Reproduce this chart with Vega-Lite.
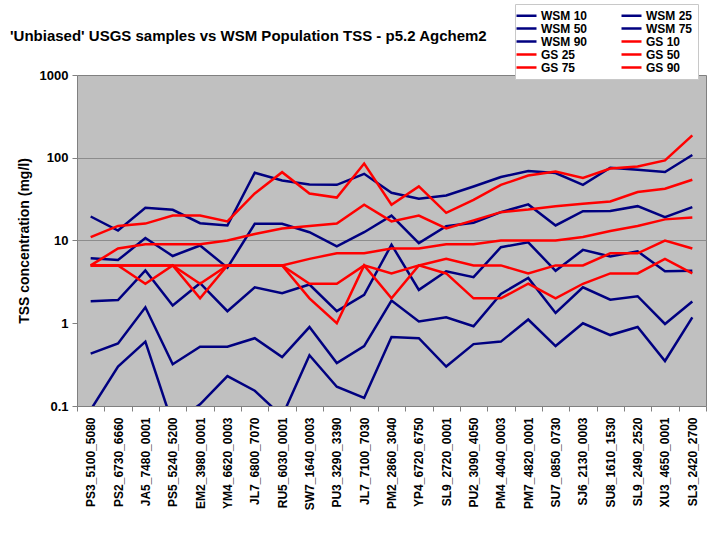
{
  "$schema": "https://vega.github.io/schema/vega-lite/v6.json",
  "width": 629,
  "height": 331,
  "autosize": {"type": "none"},
  "padding": {"left": 77, "top": 75, "right": 14, "bottom": 134},
  "background": "white",
  "config": {
    "font": "Liberation Sans",
    "view": {"fill": "#c0c0c0", "stroke": "#808080", "strokeWidth": 1}
  },
  "title": {
    "text": "'Unbiased' USGS samples vs WSM Population TSS -  p5.2 Agchem2",
    "anchor": "start",
    "frame": "group",
    "dx": -67,
    "dy": 40,
    "offset": 0,
    "font": "Liberation Sans",
    "fontSize": 15,
    "fontWeight": "bold",
    "color": "black"
  },
  "data": {
    "values": [
      {"site": "PS3_5100_5080", "WSM 10": 0.09, "WSM 25": 0.43, "WSM 50": 1.85, "WSM 75": 6.1, "WSM 90": 19.5, "GS 10": 5, "GS 25": 5, "GS 50": 5, "GS 75": 5, "GS 90": 11},
      {"site": "PS2_6730_6660", "WSM 10": 0.3, "WSM 25": 0.57, "WSM 50": 1.91, "WSM 75": 5.8, "WSM 90": 13.2, "GS 10": 5, "GS 25": 5, "GS 50": 5, "GS 75": 8, "GS 90": 15},
      {"site": "JA5_7480_0001", "WSM 10": 0.6, "WSM 25": 1.56, "WSM 50": 4.34, "WSM 75": 10.7, "WSM 90": 24.8, "GS 10": 3, "GS 25": 5, "GS 50": 5, "GS 75": 9, "GS 90": 16},
      {"site": "PS5_5240_5200", "WSM 10": 0.06, "WSM 25": 0.32, "WSM 50": 1.64, "WSM 75": 6.5, "WSM 90": 23.5, "GS 10": 5, "GS 25": 5, "GS 50": 5, "GS 75": 9, "GS 90": 20},
      {"site": "EM2_3980_0001", "WSM 10": 0.105, "WSM 25": 0.52, "WSM 50": 3.05, "WSM 75": 8.7, "WSM 90": 16.2, "GS 10": 2, "GS 25": 3, "GS 50": 5, "GS 75": 9, "GS 90": 20},
      {"site": "YM4_6620_0003", "WSM 10": 0.23, "WSM 25": 0.52, "WSM 50": 1.4, "WSM 75": 4.7, "WSM 90": 15.2, "GS 10": 5, "GS 25": 5, "GS 50": 5, "GS 75": 10, "GS 90": 17},
      {"site": "JL7_6800_7070", "WSM 10": 0.153, "WSM 25": 0.66, "WSM 50": 2.72, "WSM 75": 15.9, "WSM 90": 65.9, "GS 10": 5, "GS 25": 5, "GS 50": 5, "GS 75": 12, "GS 90": 37},
      {"site": "RU5_6030_0001", "WSM 10": 0.075, "WSM 25": 0.39, "WSM 50": 2.31, "WSM 75": 15.9, "WSM 90": 53.2, "GS 10": 5, "GS 25": 5, "GS 50": 5, "GS 75": 14, "GS 90": 67},
      {"site": "SW7_1640_0003", "WSM 10": 0.41, "WSM 25": 0.9, "WSM 50": 2.94, "WSM 75": 12.6, "WSM 90": 47.6, "GS 10": 2, "GS 25": 3, "GS 50": 6, "GS 75": 15, "GS 90": 37},
      {"site": "PU3_3290_3390", "WSM 10": 0.171, "WSM 25": 0.33, "WSM 50": 1.4, "WSM 75": 8.5, "WSM 90": 47.1, "GS 10": 1, "GS 25": 3, "GS 50": 7, "GS 75": 16, "GS 90": 33},
      {"site": "JL7_7100_7030", "WSM 10": 0.125, "WSM 25": 0.53, "WSM 50": 2.2, "WSM 75": 12.6, "WSM 90": 64, "GS 10": 5, "GS 25": 5, "GS 50": 7, "GS 75": 27, "GS 90": 85},
      {"site": "PM2_2860_3040", "WSM 10": 0.68, "WSM 25": 1.88, "WSM 50": 8.9, "WSM 75": 20, "WSM 90": 37.8, "GS 10": 2, "GS 25": 4, "GS 50": 8, "GS 75": 17, "GS 90": 27},
      {"site": "YP4_6720_6750", "WSM 10": 0.66, "WSM 25": 1.05, "WSM 50": 2.53, "WSM 75": 9.3, "WSM 90": 31.9, "GS 10": 5, "GS 25": 5, "GS 50": 8, "GS 75": 20, "GS 90": 45},
      {"site": "SL9_2720_0001", "WSM 10": 0.3, "WSM 25": 1.18, "WSM 50": 4.25, "WSM 75": 14.9, "WSM 90": 35, "GS 10": 4, "GS 25": 6, "GS 50": 9, "GS 75": 14, "GS 90": 21.6},
      {"site": "PU2_3090_4050", "WSM 10": 0.56, "WSM 25": 0.92, "WSM 50": 3.6, "WSM 75": 16.4, "WSM 90": 45, "GS 10": 2, "GS 25": 5, "GS 50": 9, "GS 75": 17.5, "GS 90": 31},
      {"site": "PM4_4040_0003", "WSM 10": 0.6, "WSM 25": 2.26, "WSM 50": 8.3, "WSM 75": 22, "WSM 90": 58.4, "GS 10": 2, "GS 25": 5, "GS 50": 10, "GS 75": 22, "GS 90": 47},
      {"site": "PM7_4820_0001", "WSM 10": 1.11, "WSM 25": 3.53, "WSM 50": 9.5, "WSM 75": 27.3, "WSM 90": 69, "GS 10": 3, "GS 25": 4, "GS 50": 10, "GS 75": 23.7, "GS 90": 61},
      {"site": "SU7_0850_0730", "WSM 10": 0.53, "WSM 25": 1.33, "WSM 50": 4.3, "WSM 75": 15.2, "WSM 90": 65.3, "GS 10": 2, "GS 25": 5, "GS 50": 10, "GS 75": 26, "GS 90": 68},
      {"site": "SJ6_2130_0003", "WSM 10": 1.0, "WSM 25": 2.72, "WSM 50": 7.7, "WSM 75": 22.6, "WSM 90": 47.1, "GS 10": 3, "GS 25": 5, "GS 50": 11, "GS 75": 27.8, "GS 90": 57},
      {"site": "SU8_1610_1530", "WSM 10": 0.72, "WSM 25": 1.93, "WSM 50": 6.4, "WSM 75": 22.8, "WSM 90": 75.7, "GS 10": 4, "GS 25": 7, "GS 50": 13, "GS 75": 29.6, "GS 90": 74},
      {"site": "SL9_2490_2520", "WSM 10": 0.9, "WSM 25": 2.12, "WSM 50": 7.4, "WSM 75": 26, "WSM 90": 71.6, "GS 10": 4, "GS 25": 7, "GS 50": 15, "GS 75": 38.5, "GS 90": 78.5},
      {"site": "XU3_4650_0001", "WSM 10": 0.35, "WSM 25": 0.98, "WSM 50": 4.25, "WSM 75": 19.1, "WSM 90": 67.1, "GS 10": 6, "GS 25": 10, "GS 50": 18, "GS 75": 42.2, "GS 90": 93},
      {"site": "SL3_2420_2700", "WSM 10": 1.18, "WSM 25": 1.83, "WSM 50": 4.3, "WSM 75": 25.3, "WSM 90": 108, "GS 10": 4, "GS 25": 8, "GS 50": 19, "GS 75": 54.2, "GS 90": 186}
    ]
  },
  "transform": [
    {"fold": ["WSM 10", "WSM 25", "WSM 50", "WSM 75", "WSM 90", "GS 10", "GS 25", "GS 50", "GS 75", "GS 90"], "as": ["series", "tss"]}
  ],
  "mark": {"type": "line", "strokeWidth": 2.5, "clip": true},
  "encoding": {
    "x": {
      "field": "site",
      "type": "nominal",
      "sort": null,
      "bandPosition": 0.5,
      "scale": {"type": "band", "paddingInner": 0, "paddingOuter": 0},
      "axis": {
        "title": null,
        "grid": false,
        "domain": false,
        "tickBand": "extent",
        "tickSize": 5,
        "tickColor": "#808080",
        "labelAngle": 270,
        "labelFont": "Liberation Sans",
        "labelFontSize": 12,
        "labelFontWeight": "bold",
        "labelColor": "black",
        "labelPadding": 6
      }
    },
    "y": {
      "field": "tss",
      "type": "quantitative",
      "scale": {"type": "log", "domain": [0.1, 1000], "nice": false},
      "axis": {
        "values": [0.1, 1, 10, 100, 1000],
        "format": "~g",
        "domain": false,
        "grid": true,
        "gridColor": {"condition": {"test": "datum.value === 10 || datum.value === 100", "value": "#8c8c8c"}, "value": "transparent"},
        "tickSize": 5,
        "tickColor": "#808080",
        "labelFont": "Liberation Sans",
        "labelFontSize": 13,
        "labelFontWeight": "bold",
        "labelColor": "black",
        "labelPadding": 4,
        "title": "TSS concentration (mg/l)",
        "titleFont": "Liberation Sans",
        "titleFontSize": 14,
        "titleFontWeight": "bold",
        "titleColor": "black",
        "titlePadding": 8
      }
    },
    "color": {
      "field": "series",
      "type": "nominal",
      "scale": {
        "domain": ["WSM 10", "WSM 50", "WSM 90", "GS 25", "GS 75", "WSM 25", "WSM 75", "GS 10", "GS 50", "GS 90"],
        "range": ["#000080", "#000080", "#000080", "#ff0000", "#ff0000", "#000080", "#000080", "#ff0000", "#ff0000", "#ff0000"]
      },
      "legend": {
        "title": null,
        "orient": "none",
        "legendX": 438,
        "legendY": -71,
        "columns": 2,
        "symbolType": "M-2,0H2",
        "symbolSize": 100,
        "symbolStrokeWidth": 2.5,
        "symbolFillColor": "transparent",
        "labelFont": "Liberation Sans",
        "labelFontSize": 12,
        "labelFontWeight": "bold",
        "labelColor": "black",
        "labelOffset": 8,
        "columnPadding": 28,
        "rowPadding": 0,
        "padding": 5,
        "fillColor": "white",
        "strokeColor": "#c8c8c8"
      }
    }
  }
}
